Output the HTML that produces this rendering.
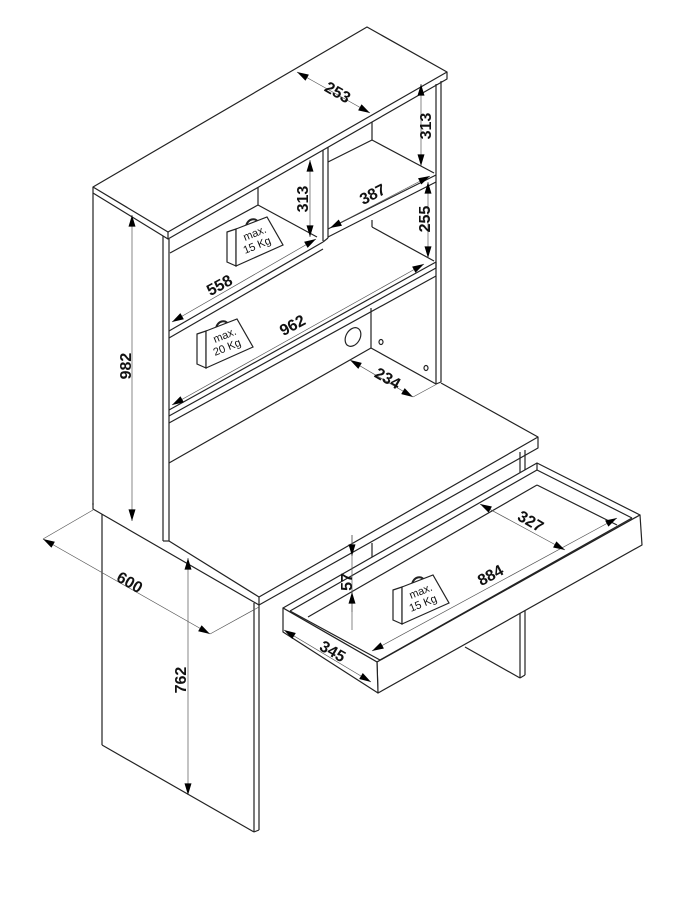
<!DOCTYPE html>
<html><head><meta charset="utf-8"><style>
html,body{margin:0;padding:0;background:#fff}
svg{display:block}
text{font-family:"Liberation Sans",sans-serif;font-weight:bold;fill:#111}
</style></head><body>
<svg width="675" height="900" viewBox="0 0 675 900" xmlns="http://www.w3.org/2000/svg">
<defs>
<marker id="a" viewBox="0 0 10 6" refX="10" refY="3" markerWidth="14" markerHeight="7" markerUnits="userSpaceOnUse" orient="auto-start-reverse"><path d="M0,0 L10,3 L0,6 z" fill="#000"/></marker>
<g id="bag">
<path d="M19,8 C19,-2 31,-4 32,5" fill="none" stroke="#222" stroke-width="2"/>
<polygon points="0,12 9,9 9,46 0,42" fill="#fff" stroke="#222" stroke-width="1.2"/>
<polygon points="9,9 40,-3 56,25 9,46" fill="#fff" stroke="#222" stroke-width="1.2"/>
</g>
</defs>
<g fill="none" stroke="#222" stroke-width="1.2" stroke-linejoin="round">
<!-- hutch top -->
<polygon points="93,187 367,27 447,72 168,232" fill="#fff"/>
<polyline points="93,187 93,193 168,239 447,79 447,72"/>
<line x1="168" y1="232" x2="168" y2="239"/>
<!-- left side -->
<line x1="93" y1="193" x2="93" y2="505"/>
<line x1="163" y1="236" x2="163" y2="541"/>
<line x1="169" y1="239" x2="169" y2="541"/>
<line x1="163" y1="541" x2="169" y2="541"/>
<!-- right side -->
<line x1="436" y1="84" x2="436" y2="384"/>
<line x1="441" y1="81" x2="441" y2="382"/>
<line x1="436" y1="384" x2="441" y2="382"/>
<!-- divider -->
<line x1="323" y1="150" x2="323" y2="241"/>
<line x1="328" y1="147" x2="328" y2="238"/>
<!-- top compartments backs -->
<line x1="258" y1="187" x2="258" y2="205"/>
<line x1="170" y1="253" x2="258" y2="205"/>
<line x1="258" y1="205" x2="317" y2="237"/>
<line x1="372" y1="122" x2="372" y2="140"/>
<line x1="328" y1="162" x2="372" y2="140"/>
<line x1="372" y1="140" x2="434" y2="173"/>
<!-- upper shelf -->
<line x1="169" y1="331" x2="323" y2="242"/>
<line x1="169" y1="338" x2="323" y2="249"/>
<line x1="328" y1="229" x2="436" y2="175"/>
<line x1="328" y1="237" x2="436" y2="182"/>
<line x1="323" y1="242" x2="328" y2="238"/>
<!-- middle compartment back -->
<line x1="372" y1="220" x2="372" y2="227"/>
<line x1="372" y1="227" x2="434" y2="261"/>
<!-- lower shelf -->
<polyline points="169,410 436,262 436,268 169,416"/>
<line x1="169" y1="423" x2="436" y2="276"/>
<!-- back bottom -->
<line x1="371" y1="308" x2="371" y2="348"/>
<line x1="371" y1="348" x2="436" y2="384"/>
<line x1="371" y1="348" x2="169" y2="463"/>
<ellipse cx="353" cy="337" rx="7" ry="10" transform="rotate(30 353 337)"/>
<ellipse cx="381" cy="342" rx="2" ry="2.5"/>
<ellipse cx="426" cy="368" rx="2" ry="2.5"/>
<!-- desk top -->
<polyline points="441,383 538,437 538,448 259,605 259,597 538,437"/>
<polyline points="169,541 259,597"/>
<polyline points="93,503 93,509 259,605"/>
<!-- left leg -->
<line x1="102" y1="514" x2="102" y2="745"/>
<line x1="102" y1="745" x2="254" y2="832"/>
<line x1="254" y1="603" x2="254" y2="832"/>
<line x1="259" y1="605" x2="259" y2="830"/>
<line x1="254" y1="832" x2="259" y2="830"/>
<!-- right leg -->
<line x1="520" y1="452" x2="520" y2="678"/>
<line x1="525" y1="450" x2="525" y2="675"/>
<line x1="520" y1="678" x2="525" y2="675"/>
<line x1="465" y1="647" x2="520" y2="678"/>
<line x1="372" y1="543" x2="372" y2="560"/>
<!-- drawer -->
<polygon points="283,608 537,463 640,515 377,662" fill="#fff"/>
<polygon points="377,662 640,515 642,545 378,693" fill="#fff"/>
<polygon points="283,608 377,662 378,693 283,632" fill="#fff"/>
<line x1="537" y1="463" x2="537" y2="470"/>
<line x1="290" y1="611" x2="537" y2="470"/>
<line x1="537" y1="470" x2="632" y2="518"/>
<line x1="308" y1="617" x2="537" y2="485"/>
<line x1="537" y1="485" x2="617" y2="525"/>
<line x1="290" y1="611" x2="380" y2="660"/>
<line x1="380" y1="660" x2="632" y2="518"/>
</g>
<!-- bags -->
<use href="#bag" transform="translate(227,220)"/>
<use href="#bag" transform="translate(197,322)"/>
<use href="#bag" transform="translate(393,578)"/>
<g font-size="11">
<text x="245" y="241" transform="rotate(-22 245 241)" style="font-weight:normal">max.</text>
<text x="245" y="254" transform="rotate(-22 245 254)" style="font-weight:normal">15 Kg</text>
<text x="215" y="343" transform="rotate(-22 215 343)" style="font-weight:normal">max.</text>
<text x="215" y="356" transform="rotate(-22 215 356)" style="font-weight:normal">20 Kg</text>
<text x="411" y="599" transform="rotate(-22 411 599)" style="font-weight:normal">max.</text>
<text x="411" y="612" transform="rotate(-22 411 612)" style="font-weight:normal">15 Kg</text>
</g>
<!-- dimension lines -->
<g stroke="#555" stroke-width="0.7" fill="none">
<line x1="297" y1="72" x2="370" y2="113" marker-start="url(#a)" marker-end="url(#a)"/>
<line x1="421" y1="84" x2="421" y2="166" marker-start="url(#a)" marker-end="url(#a)"/>
<line x1="330" y1="228" x2="430" y2="176" marker-start="url(#a)" marker-end="url(#a)"/>
<line x1="428" y1="182" x2="428" y2="258" marker-start="url(#a)" marker-end="url(#a)"/>
<line x1="310" y1="160" x2="310" y2="237" marker-start="url(#a)" marker-end="url(#a)"/>
<line x1="172" y1="322" x2="316" y2="239" marker-start="url(#a)" marker-end="url(#a)"/>
<line x1="172" y1="405" x2="424" y2="264" marker-start="url(#a)" marker-end="url(#a)"/>
<line x1="350" y1="360" x2="413" y2="397" marker-start="url(#a)" marker-end="url(#a)"/>
<line x1="413" y1="397" x2="437" y2="384"/>
<line x1="132" y1="215" x2="132" y2="521" marker-start="url(#a)" marker-end="url(#a)"/>
<line x1="43" y1="539" x2="210" y2="634" marker-start="url(#a)" marker-end="url(#a)"/>
<line x1="93" y1="510" x2="43" y2="539"/>
<line x1="259" y1="607" x2="210" y2="634"/>
<line x1="188" y1="558" x2="188" y2="795" marker-start="url(#a)" marker-end="url(#a)"/>
<line x1="352" y1="535" x2="352" y2="630"/>
<line x1="352" y1="535" x2="352" y2="556" marker-end="url(#a)"/>
<line x1="352" y1="612" x2="352" y2="592" marker-end="url(#a)"/>
<line x1="372" y1="651" x2="617" y2="518" marker-start="url(#a)" marker-end="url(#a)"/>
<line x1="480" y1="504" x2="565" y2="550" marker-start="url(#a)" marker-end="url(#a)"/>
<line x1="284" y1="630" x2="371" y2="682" marker-start="url(#a)" marker-end="url(#a)"/>
</g>
<g font-size="16">
<text x="335" y="97" transform="rotate(30 335 97)" text-anchor="middle">253</text>
<text x="431" y="126" transform="rotate(-90 431 126)" text-anchor="middle">313</text>
<text x="375" y="199" transform="rotate(-27 375 199)" text-anchor="middle">387</text>
<text x="430" y="219" transform="rotate(-90 430 219)" text-anchor="middle">255</text>
<text x="308" y="199" transform="rotate(-90 308 199)" text-anchor="middle">313</text>
<text x="222" y="290" transform="rotate(-28 222 290)" text-anchor="middle">558</text>
<text x="295" y="330" transform="rotate(-28 295 330)" text-anchor="middle">962</text>
<text x="385" y="383" transform="rotate(30 385 383)" text-anchor="middle">234</text>
<text x="131" y="366" transform="rotate(-90 131 366)" text-anchor="middle">982</text>
<text x="127" y="587" transform="rotate(30 127 587)" text-anchor="middle">600</text>
<text x="186" y="680" transform="rotate(-90 186 680)" text-anchor="middle">762</text>
<text x="352" y="582" transform="rotate(-90 352 582)" text-anchor="middle">57</text>
<text x="493" y="580" transform="rotate(-28 493 580)" text-anchor="middle">884</text>
<text x="528" y="526" transform="rotate(30 528 526)" text-anchor="middle">327</text>
<text x="330" y="656" transform="rotate(30 330 656)" text-anchor="middle">345</text>
</g>
</svg>
</body></html>
